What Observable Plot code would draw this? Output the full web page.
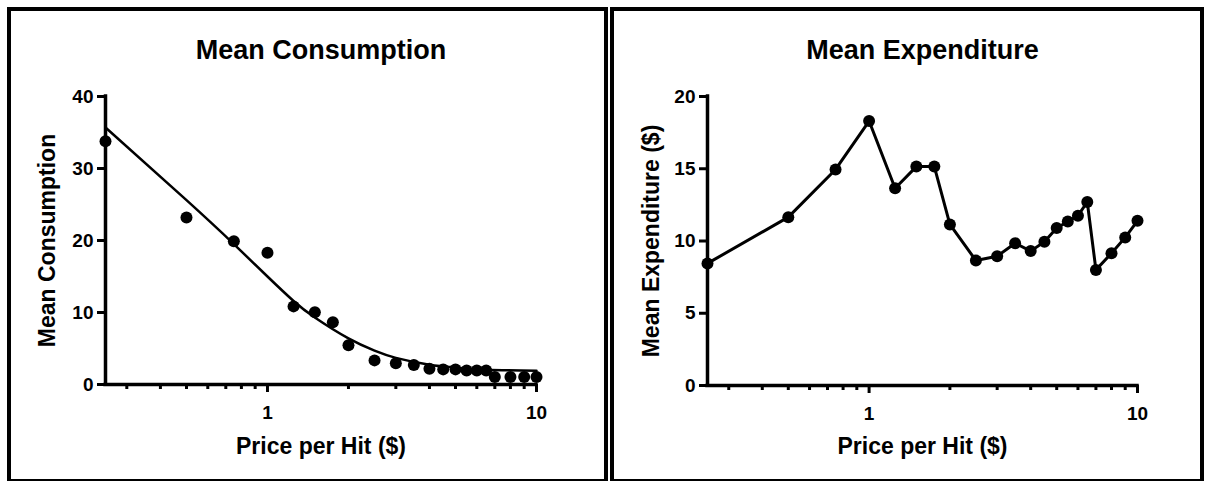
<!DOCTYPE html>
<html><head><meta charset="utf-8">
<script src="https://cdn.jsdelivr.net/npm/d3@7"></script>
<script src="https://cdn.jsdelivr.net/npm/@observablehq/plot@0.6"></script>
<style>
html,body{margin:0;padding:0;background:#fff;}
#wrap{position:relative;width:1209px;height:481px;overflow:hidden;background:#fff;}
.panel{position:absolute;top:0;}
.frame{position:absolute;box-sizing:border-box;border:4px solid #000;top:7px;height:476px;pointer-events:none;}
</style></head><body>
<div id="wrap">
  <div id="left" class="panel" style="left:0px"></div>
  <div id="right" class="panel" style="left:604px"></div>
  <div class="frame" style="left:7px;width:601px"></div>
  <div class="frame" style="left:610px;width:594px"></div>
</div>
<script>
// ---- data ----
const prices = [0.25, 0.5, 0.75, 1, 1.25, 1.5, 1.75, 2, 2.5, 3, 3.5, 4, 4.5, 5, 5.5, 6, 6.5, 7, 8, 9, 10];
const consumption = [33.8, 23.2, 19.9, 18.3, 10.85, 10.05, 8.65, 5.45, 3.35, 2.95, 2.7, 2.2, 2.1, 2.1, 1.95, 1.95, 1.95, 1.05, 1.05, 1.05, 1.05];
const expenditure = [8.45, 11.65, 14.95, 18.3, 13.65, 15.15, 15.15, 11.15, 8.65, 8.95, 9.85, 9.3, 9.95, 10.9, 11.35, 11.75, 12.7, 8.0, 9.15, 10.25, 11.4];
const fitPrices = [0.25, 0.5, 0.75, 1.0, 1.25, 1.5, 2, 2.5, 3, 4, 5, 6.5, 10];
const fitConsumption = [35.7, 25.6, 19.5, 15.0, 11.6, 9.3, 6.4, 4.7, 3.7, 2.75, 2.35, 2.05, 1.92];
const xDomain = [0.25, 10];
const majorTicks = [1, 10];
const minorTicks = [0.3, 0.4, 0.5, 0.6, 0.7, 0.8, 0.9, 2, 3, 4, 5, 6, 7, 8, 9];
const consumptionTicks = [0, 10, 20, 30, 40];
const expenditureTicks = [0, 5, 10, 15, 20];
const titles = ["Mean Consumption", "Mean Expenditure"];
const yLabels = ["Mean Consumption", "Mean Expenditure ($)"];
const xLabel = "Price per Hit ($)";

const points = prices.map((p, i) => ({p, c: consumption[i], e: expenditure[i]}));
const fit = fitPrices.map((p, i) => ({p, c: fitConsumption[i]}));

const FONT = '"Liberation Sans", Arial, Helvetica, sans-serif';

function makePlot(o) {
  const yTicks = o.yTicks;
  return Plot.plot({
    width: o.width, height: 481,
    marginLeft: o.ml, marginRight: o.mr, marginTop: 96, marginBottom: o.mb,
    style: {fontFamily: FONT, fontWeight: "bold", fontSize: "19px", color: "#000", background: "transparent", overflow: "visible"},
    x: {type: "log", domain: xDomain, label: null},
    y: {domain: [yTicks[0], yTicks[yTicks.length - 1]], label: null},
    marks: [
      Plot.axisY({ticks: yTicks, tickSize: 8, tickPadding: 4, strokeWidth: 3, fontSize: 19, fontWeight: "bold", tickFormat: d => String(d), label: null}),
      Plot.axisX({ticks: minorTicks, tickSize: 5, strokeWidth: 3, tickFormat: () => "", label: null}),
      Plot.axisX({ticks: majorTicks, tickSize: 8, tickPadding: 13, strokeWidth: 3, fontSize: 19, fontWeight: "bold", tickFormat: d => String(d), label: null}),
      Plot.ruleX([xDomain[0]], {y1: yTicks[0], y2: yTicks[yTicks.length - 1], strokeWidth: 3.5, strokeLinecap: "square"}),
      Plot.ruleY([yTicks[0]], {x1: xDomain[0], x2: xDomain[1], strokeWidth: 3.5, strokeLinecap: "square"}),
      ...o.marks,
      Plot.text([o.title], {text: d => d, frameAnchor: "top", dy: -38, lineAnchor: "bottom", fontSize: 27, fontWeight: "bold"}),
      Plot.text([xLabel], {text: d => d, frameAnchor: "bottom", dy: o.xdy, lineAnchor: "bottom", fontSize: 23, fontWeight: "bold"}),
      Plot.text([o.yLabel], {text: d => d, frameAnchor: "left", dx: o.ydx, rotate: -90, textAnchor: "middle", lineAnchor: "bottom", fontSize: 23, fontWeight: "bold"})
    ]
  });
}

document.getElementById("left").append(makePlot({
  width: 604, ml: 105, mr: 68, mb: 97, xdy: 69, ydx: -51,
  yTicks: consumptionTicks, title: titles[0], yLabel: yLabels[0],
  marks: [
    Plot.line(fit, {x: "p", y: "c", curve: "natural", stroke: "#000", strokeWidth: 2.5}),
    Plot.dot(points, {x: "p", y: "c", r: 6, fill: "#000", stroke: "none"})
  ]
}));

document.getElementById("right").append(makePlot({
  width: 605, ml: 103, mr: 72, mb: 96, xdy: 68, ydx: -49,
  yTicks: expenditureTicks, title: titles[1], yLabel: yLabels[1],
  marks: [
    Plot.line(points, {x: "p", y: "e", stroke: "#000", strokeWidth: 3}),
    Plot.dot(points, {x: "p", y: "e", r: 6, fill: "#000", stroke: "none"})
  ]
}));
</script>
</body></html>
